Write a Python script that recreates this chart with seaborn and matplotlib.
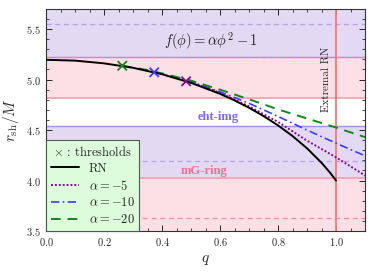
import numpy as np
import pandas as pd
import matplotlib
matplotlib.use("Agg")
import matplotlib.pyplot as plt
import seaborn as sns
from matplotlib.ticker import MultipleLocator

# RN shadow radius
q_rn = [0.0, 0.1, 0.2, 0.3, 0.4, 0.5, 0.6, 0.65, 0.7, 0.75, 0.8, 0.85, 0.9, 0.95, 0.98, 1.0]
r_rn = [5.196, 5.188, 5.161, 5.117, 5.053, 4.968, 4.859, 4.794, 4.721, 4.639, 4.546, 4.441, 4.319, 4.176, 4.076, 4.0]

# scalarized branches, starting at their thresholds
q_a5 = [0.483, 0.55, 0.6, 0.7, 0.8, 0.9, 1.0, 1.1]
r_a5 = [4.983, 4.925, 4.868, 4.735, 4.580, 4.395, 4.230, 4.050]
q_a10 = [0.373, 0.45, 0.5, 0.6, 0.7, 0.8, 0.9, 1.0, 1.1]
r_a10 = [5.072, 5.020, 4.980, 4.878, 4.765, 4.635, 4.500, 4.370, 4.245]
q_a20 = [0.263, 0.35, 0.4, 0.5, 0.6, 0.7, 0.8, 0.9, 1.0, 1.1]
r_a20 = [5.137, 5.095, 5.062, 4.990, 4.900, 4.805, 4.705, 4.615, 4.525, 4.430]

# threshold points
q_thr = [0.483, 0.373, 0.263]
r_thr = [4.983, 5.072, 5.137]
thr_colors = ["#8b0a8b", "#3b3bff", "#11861b"]

# observational bands
eht_1s = [4.54, 5.22]
eht_2s = [4.19, 5.55]
mg_1s = [4.03, 4.82]
mg_2s = [3.63, 5.22]

ylo, yhi = 3.5, 5.7

sns.set_style("ticks")
plt.rcParams["font.family"] = "serif"
plt.rcParams["font.serif"] = ["cmr10", "DejaVu Serif"]
plt.rcParams["mathtext.fontset"] = "cm"
plt.rcParams["axes.formatter.use_mathtext"] = True
plt.rcParams["axes.unicode_minus"] = True

fig = plt.figure(figsize=(3.74, 2.79), dpi=100)
ax = fig.add_axes([0.123, 0.172, 0.853, 0.796])

lav = "#e3d9f2"
pink = "#fde0e6"
ax.axhspan(mg_1s[1], yhi, color=pink, lw=0, zorder=0)
ax.axhspan(eht_1s[1], yhi, color=lav, lw=0, zorder=0)
ax.axhspan(ylo, eht_1s[0], color=lav, lw=0, zorder=0)
ax.axhspan(ylo, mg_1s[0], color=pink, lw=0, zorder=0)

ax.axhline(eht_1s[0], color="#a690e6", lw=1.0, zorder=1)
ax.axhline(eht_1s[1], color="#a690e6", lw=1.0, zorder=1)
for y in eht_2s:
    ax.axhline(y, color="#b7a0ee", lw=0.9, ls=(0, (4, 3)), zorder=1)
for y in mg_1s:
    ax.axhline(y, color="#f6a3b5", lw=1.3, zorder=1)
for y in mg_2s:
    ax.axhline(y, color="#f08aa0", lw=0.9, ls=(0, (4, 3)), zorder=1)

ax.axvline(1.0, color="#f47878", lw=1.3, zorder=2)

sns.lineplot(x=q_rn, y=r_rn, color="black", lw=1.4, ax=ax, label="RN", zorder=5)
sns.lineplot(x=q_a5, y=r_a5, color="#8b0a8b", lw=1.4, ls=(0, (1, 1)), ax=ax,
             label=r"$\alpha=-5$", zorder=4)
sns.lineplot(x=q_a10, y=r_a10, color="#3b3bff", lw=1.2, ls=(0, (5, 2, 1, 2)), ax=ax,
             label=r"$\alpha=-10$", zorder=4)
sns.lineplot(x=q_a20, y=r_a20, color="#11861b", lw=1.4, ls=(0, (5, 3.5)), ax=ax,
             label=r"$\alpha=-20$", zorder=4)

sns.scatterplot(x=q_thr, y=r_thr, hue=[0, 1, 2], palette=thr_colors, marker="x",
                s=45, linewidth=1.3, legend=False, ax=ax, zorder=6)

ax.text(0.57, 5.38, r"$f(\phi)=\alpha\phi^2-1$", fontsize=10.5, ha="center", va="center")
ax.text(0.594, 4.625, "eht-img", color="#7b68ee", fontsize=9, fontweight="bold",
        family="Liberation Serif", ha="center", va="center")
ax.text(0.545, 4.095, "mG-ring", color="#f07090", fontsize=9, fontweight="bold",
        family="Liberation Serif", ha="center", va="center")
ax.text(0.968, 5.0, "Extremal RN", rotation=90, fontsize=8, ha="center", va="center")

ax.set_xlim(0, 1.1)
ax.set_ylim(ylo, yhi)
ax.xaxis.set_major_locator(MultipleLocator(0.2))
ax.xaxis.set_minor_locator(MultipleLocator(0.05))
ax.yaxis.set_major_locator(MultipleLocator(0.5))
ax.yaxis.set_minor_locator(MultipleLocator(0.1))
ax.tick_params(which="both", direction="in", top=True, right=True, labelsize=7.5)
ax.tick_params(which="major", length=4, width=0.7)
ax.tick_params(which="minor", length=2, width=0.6)
for s in ax.spines.values():
    s.set_linewidth(0.8)
    s.set_color("#333333")

ax.set_xlabel(r"$q$", fontsize=11)
ax.set_ylabel(r"$r_{\rm sh}/M$", fontsize=11)

leg = ax.legend(loc="lower left", title=r"$\times$ : thresholds", fontsize=9,
                title_fontsize=9, fancybox=False, framealpha=1,
                facecolor="#dcfcdc", edgecolor="#555555", handlelength=2.2,
                borderaxespad=0.0, labelspacing=0.3)
leg.get_frame().set_linewidth(0.8)
leg.set_zorder(10)

fig.savefig("out.png", dpi=100)
